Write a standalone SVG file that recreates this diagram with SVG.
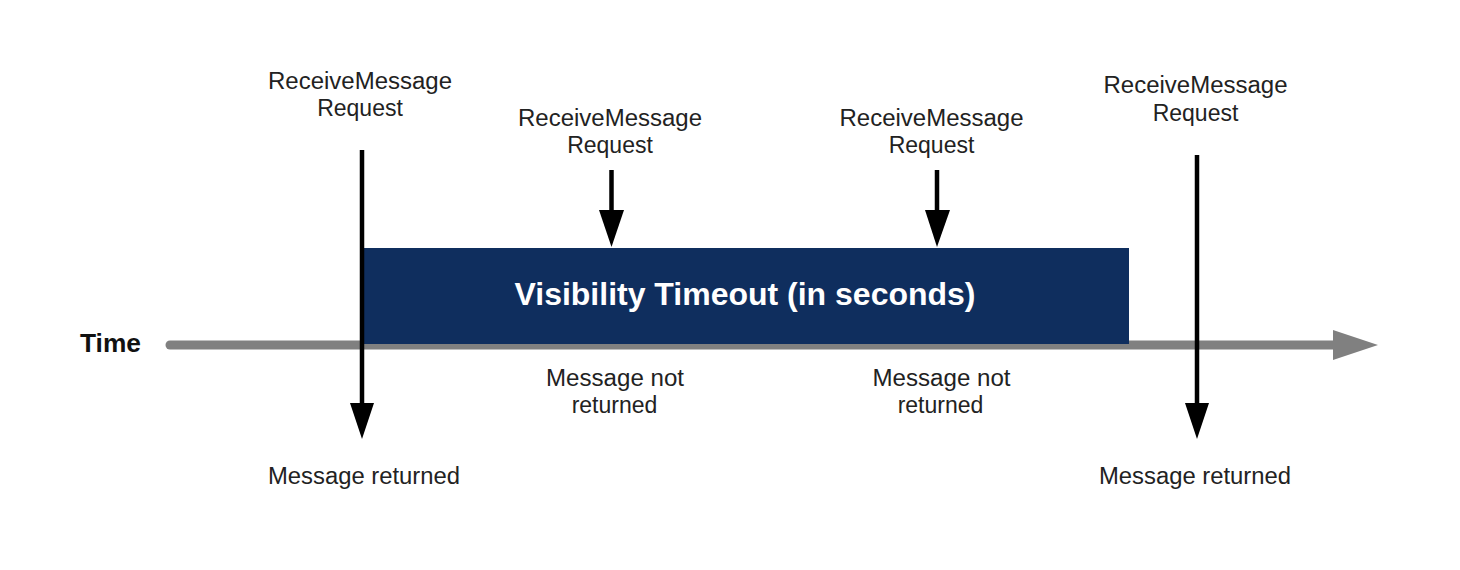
<svg xmlns="http://www.w3.org/2000/svg" width="1460" height="570" viewBox="0 0 1460 570">
<style>
.t{font-family:"Liberation Sans",Arial,sans-serif;font-size:23px;fill:#222;text-anchor:middle}
.b{font-family:"Liberation Sans",Arial,sans-serif;font-weight:bold}
.arr{stroke:#000;stroke-width:4.5;fill:none}
.head{fill:#000}
</style>
<rect width="1460" height="570" fill="#fff"/>
<g id="time-axis">
<line x1="170" y1="345" x2="1336" y2="345" stroke="#808080" stroke-width="9" stroke-linecap="round"/>
<polygon points="1333,330 1378,345 1333,360" fill="#808080"/>
<text class="b" x="80" y="352" font-size="26" fill="#111" textLength="61" lengthAdjust="spacingAndGlyphs">Time</text>
</g>
<g id="visibility-timeout">
<rect x="362" y="248" width="767" height="96" fill="#0f2e5e"/>
<text class="b" x="745" y="305" font-size="31" fill="#fff" text-anchor="middle" textLength="461" lengthAdjust="spacingAndGlyphs">Visibility Timeout (in seconds)</text>
</g>
<g id="connectors">
<line class="arr" x1="362" y1="150" x2="362" y2="406"/>
<polygon class="head" points="350,403 374,403 362,439"/>
<line class="arr" x1="1197" y1="155" x2="1197" y2="406"/>
<polygon class="head" points="1185,403 1209,403 1197,439"/>
<line class="arr" x1="611.5" y1="170" x2="611.5" y2="213"/>
<polygon class="head" points="599,210 624,210 611.5,247"/>
<line class="arr" x1="937" y1="170" x2="937" y2="213"/>
<polygon class="head" points="925,210 950,210 937,247"/>
</g>
<g id="request-1">
<text class="t" x="360" y="89" textLength="184" lengthAdjust="spacingAndGlyphs">ReceiveMessage</text>
<text class="t" x="360" y="116">Request</text>
</g>
<g id="request-2">
<text class="t" x="610" y="126" textLength="184" lengthAdjust="spacingAndGlyphs">ReceiveMessage</text>
<text class="t" x="610" y="153">Request</text>
</g>
<g id="request-3">
<text class="t" x="931.5" y="126" textLength="184" lengthAdjust="spacingAndGlyphs">ReceiveMessage</text>
<text class="t" x="931.5" y="153">Request</text>
</g>
<g id="request-4">
<text class="t" x="1195.5" y="93" textLength="184" lengthAdjust="spacingAndGlyphs">ReceiveMessage</text>
<text class="t" x="1195.5" y="121">Request</text>
</g>
<g id="not-returned-1">
<text class="t" x="615" y="386" textLength="138" lengthAdjust="spacingAndGlyphs">Message not</text>
<text class="t" x="614.5" y="413">returned</text>
</g>
<g id="not-returned-2">
<text class="t" x="941.5" y="386" textLength="138" lengthAdjust="spacingAndGlyphs">Message not</text>
<text class="t" x="940.5" y="413">returned</text>
</g>
<g id="returned-1">
<text class="t" x="364" y="484" textLength="192" lengthAdjust="spacingAndGlyphs">Message returned</text>
</g>
<g id="returned-2">
<text class="t" x="1195" y="484" textLength="192" lengthAdjust="spacingAndGlyphs">Message returned</text>
</g>
</svg>
